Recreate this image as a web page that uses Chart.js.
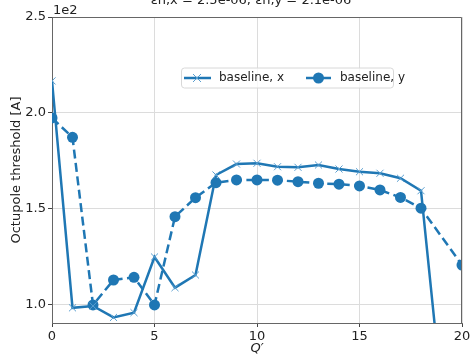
<!DOCTYPE html>
<html>
<head>
<meta charset="utf-8">
<script src="https://cdn.jsdelivr.net/npm/chart.js@4/dist/chart.umd.min.js"></script>
<style>
  html, body { margin: 0; padding: 0; background: #fff; }
  #wrap { width: 473px; height: 356px; position: relative; }
</style>
</head>
<body>
<div id="wrap"><canvas id="myChart" width="473" height="356"></canvas></div>
<script>
// Q' values
const qPrime = [0, 1, 2, 3, 4, 5, 6, 7, 8, 9, 10, 11, 12, 13, 14, 15, 16, 17, 18, 19, 20];
// octupole threshold [A], horizontal plane
const thresholdX = [216.7, 98.5, 99.5, 93.5, 96, 125, 109, 115.6, 167.7, 173.4, 173.8,
  172, 171.7, 172.9, 170.8, 169.4, 168.6, 166, 159.5, 55, 40];
// octupole threshold [A], vertical plane (no point at Q'=19)
const thresholdY = [197.4, 187.3, 100, 113, 114.4, 100, 146, 155.9, 163.7, 165.1, 165.1,
  165, 164.2, 163.4, 162.9, 162, 159.9, 156, 150.4, null, 120.8];
const yTicks = [100, 150, 200, 250];
const xTicks = [0, 5, 10, 15, 20];
const seriesNames = ['baseline, x', 'baseline, y'];

const blue = '#1f77b4';
const font = 'DejaVu Sans';

const decorations = {
  id: 'decorations',
  afterDraw(chart) {
    const ctx = chart.ctx;
    const area = chart.chartArea;
    ctx.save();
    ctx.fillStyle = '#222';
    // title (cut by top edge)
    ctx.font = '13px "' + font + '"';
    ctx.textAlign = 'center';
    ctx.textBaseline = 'alphabetic';
    ctx.fillText('\u03b5n,x = 2.5e-06, \u03b5n,y = 2.1e-06', 251, 4);
    // offset text
    ctx.textAlign = 'left';
    ctx.fillText('1e2', 53, 14);
    // y title
    ctx.save();
    ctx.translate(17, (area.top + area.bottom) / 2);
    ctx.rotate(-Math.PI / 2);
    ctx.textAlign = 'center';
    ctx.textBaseline = 'middle';
    ctx.fillText('Octupole threshold [A]', 0, 0);
    ctx.restore();
    // x title
    ctx.font = 'italic 13px "' + font + '"';
    ctx.textAlign = 'center';
    ctx.textBaseline = 'middle';
    ctx.fillText("Q\u2032", (area.left + area.right) / 2, 349);

    // legend
    const lx = 181.5, ly = 68, lw = 212, lh = 20;
    ctx.beginPath();
    ctx.roundRect(lx, ly, lw, lh, 3);
    ctx.fillStyle = 'rgba(255,255,255,0.8)';
    ctx.fill();
    ctx.strokeStyle = '#d8d8d8';
    ctx.lineWidth = 1;
    ctx.stroke();
    const cy = 78;
    ctx.strokeStyle = blue;
    ctx.lineWidth = 2.5;
    ctx.beginPath(); ctx.moveTo(184, cy); ctx.lineTo(211, cy); ctx.stroke();
    ctx.lineWidth = 1;
    ctx.strokeStyle = '#5a9fd0';
    ctx.beginPath();
    ctx.moveTo(193, cy - 4); ctx.lineTo(201, cy + 4);
    ctx.moveTo(193, cy + 4); ctx.lineTo(201, cy - 4);
    ctx.stroke();
    ctx.strokeStyle = blue;
    ctx.lineWidth = 2.5;
    ctx.beginPath(); ctx.moveTo(306, cy); ctx.lineTo(331, cy); ctx.stroke();
    ctx.fillStyle = blue;
    ctx.beginPath(); ctx.arc(318.5, cy, 5.5, 0, Math.PI * 2); ctx.fill();
    ctx.fillStyle = '#222';
    ctx.font = '12px "' + font + '"';
    ctx.textAlign = 'left';
    ctx.textBaseline = 'middle';
    ctx.fillText(seriesNames[0], 219, cy);
    ctx.fillText(seriesNames[1], 340, cy);
    ctx.restore();
  }
};

const config = {
  type: 'line',
  data: {
    datasets: [{
      label: seriesNames[0],
      data: qPrime.map((q, i) => ({ x: q, y: thresholdX[i] })),
      borderColor: blue,
      borderWidth: 2.5,
      pointStyle: 'crossRot',
      pointRadius: 5,
      pointBorderWidth: 1,
      pointBorderColor: '#5a9fd0',
      pointBackgroundColor: blue,
      tension: 0
    }, {
      label: seriesNames[1],
      data: qPrime.map((q, i) => ({ x: q, y: thresholdY[i] })),
      borderColor: blue,
      borderWidth: 2.5,
      borderDash: [9, 4.5],
      pointStyle: 'circle',
      pointRadius: 5.5,
      pointBorderWidth: 0,
      pointBackgroundColor: blue,
      spanGaps: true,
      tension: 0
    }]
  },
  options: {
    responsive: false,
    animation: false,
    layout: { padding: { top: 17, right: 11, left: 0, bottom: 0 } },
    plugins: { legend: { display: false }, tooltip: { enabled: false } },
    scales: {
      x: {
        type: 'linear',
        min: 0, max: 20,
        afterBuildTicks: s => { s.ticks = xTicks.map(v => ({ value: v })); },
        afterFit: s => { s.height = 33; },
        ticks: { color: '#222', font: { family: font, size: 13 }, padding: 2, maxRotation: 0 },
        grid: { color: '#dcdcdc', lineWidth: 1, tickColor: '#444', tickLength: 4 },
        border: { color: '#666', width: 1 }
      },
      y: {
        min: 90.6, max: 250,
        afterBuildTicks: s => { s.ticks = yTicks.map(v => ({ value: v })); },
        afterFit: s => { s.width = 52; },
        ticks: {
          color: '#222', font: { family: font, size: 13 }, padding: 2,
          callback: v => (v / 100).toFixed(1)
        },
        grid: { color: '#dcdcdc', lineWidth: 1, tickColor: '#444', tickLength: 4 },
        border: { color: '#666', width: 1 }
      }
    }
  },
  plugins: [decorations, {
    id: 'frame',
    afterDatasetsDraw(chart) {
      const a = chart.chartArea, ctx = chart.ctx;
      ctx.save();
      ctx.strokeStyle = '#666';
      ctx.lineWidth = 1;
      ctx.beginPath();
      ctx.moveTo(a.left, a.top + 0.5); ctx.lineTo(a.right - 0.5, a.top + 0.5); ctx.lineTo(a.right - 0.5, a.bottom);
      ctx.stroke();
      ctx.restore();
    }
  }]
};

new Chart(document.getElementById('myChart'), config);
</script>
</body>
</html>
